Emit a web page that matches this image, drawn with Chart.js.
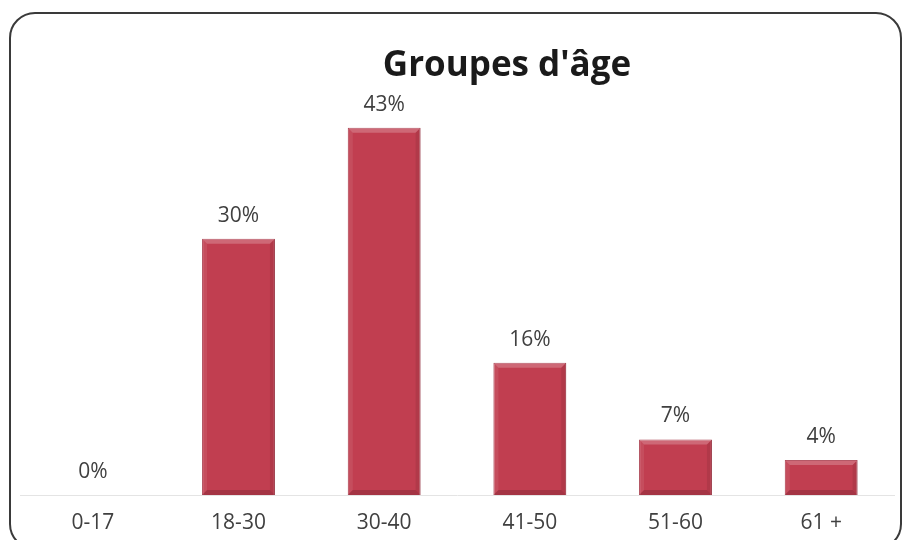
<!DOCTYPE html>
<html>
<head>
<meta charset="utf-8">
<script src="https://cdn.jsdelivr.net/npm/chart.js@4/dist/chart.umd.min.js"></script>
<style>
  html, body { margin: 0; padding: 0; background: #fff; overflow: hidden; }
  #wrap { position: relative; width: 903px; height: 540px; }
  #frame {
    position: absolute; left: 9px; top: 12px; width: 889px; height: 534px;
    border: 2px solid #3a3a3a; border-radius: 26px; pointer-events: none;
  }
  canvas { position: absolute; left: 0; top: 0; }
</style>
</head>
<body>
<div id="wrap">
  <canvas id="chart" width="903" height="540"></canvas>
  <div id="frame"></div>
</div>
<script>
// ── Data ────────────────────────────────────────────────────────────────
const title      = "Groupes d'âge";
const categories = ['0-17', '18-30', '30-40', '41-50', '51-60', '61 +'];
const values     = [0, 30, 43, 15.5, 6.5, 4.1];
const valueLabels = ['0%', '30%', '43%', '16%', '7%', '4%'];

const textColor = '#404040';
const font = '"Open Sans", "DejaVu Sans", sans-serif';

// ── Plugins: bevel on bars, value labels, title ─────────────────────────
const bevelPlugin = {
    id: 'bevel',
    afterDatasetsDraw(chart) {
        const ctx = chart.ctx;
        chart.getDatasetMeta(0).data.forEach(bar => {
            const h = bar.base - bar.y;
            if (h < 2) return;
            const l = bar.x - bar.width / 2, r = bar.x + bar.width / 2;
            const t = bar.y, b = bar.base, e = 5;
            ctx.save();
            // top highlight
            ctx.fillStyle = 'rgba(255,255,255,0.22)';
            ctx.beginPath();
            ctx.moveTo(l, t); ctx.lineTo(r, t); ctx.lineTo(r - e, t + e); ctx.lineTo(l + e, t + e);
            ctx.closePath(); ctx.fill();
            // sides
            ctx.fillStyle = 'rgba(255,255,255,0.08)';
            ctx.beginPath();
            ctx.moveTo(l, t); ctx.lineTo(l + e, t + e); ctx.lineTo(l + e, b - e); ctx.lineTo(l, b);
            ctx.closePath(); ctx.fill();
            ctx.fillStyle = 'rgba(0,0,0,0.08)';
            ctx.beginPath();
            ctx.moveTo(r, t); ctx.lineTo(r - e, t + e); ctx.lineTo(r - e, b - e); ctx.lineTo(r, b);
            ctx.closePath(); ctx.fill();
            // bottom shade
            ctx.fillStyle = 'rgba(0,0,0,0.15)';
            ctx.beginPath();
            ctx.moveTo(l, b); ctx.lineTo(r, b); ctx.lineTo(r - e, b - e); ctx.lineTo(l + e, b - e);
            ctx.closePath(); ctx.fill();
            ctx.restore();
        });
    }
};

const labelPlugin = {
    id: 'valueLabels',
    afterDraw(chart) {
        const ctx = chart.ctx;
        ctx.save();
        ctx.fillStyle = textColor;
        ctx.font = '21px ' + font;
        ctx.textAlign = 'center';
        ctx.textBaseline = 'alphabetic';
        chart.getDatasetMeta(0).data.forEach((bar, i) => {
            ctx.fillText(valueLabels[i], bar.x, bar.y - 17);
        });
        // title, offset right like the original
        ctx.fillStyle = '#1a1a1a';
        ctx.font = 'bold 35px ' + font;
        ctx.fillText(title, 507, 76);
        ctx.restore();
    }
};

// ── Chart ───────────────────────────────────────────────────────────────
new Chart(document.getElementById('chart'), {
    type: 'bar',
    data: {
        labels: categories,
        datasets: [{
            data: values,
            backgroundColor: '#c13e50',
            borderColor: '#a02a3b',
            borderWidth: 1,
            categoryPercentage: 1,
            barPercentage: 0.5
        }]
    },
    options: {
        responsive: false,
        animation: false,
        layout: { padding: { top: 68, left: 20, right: 9, bottom: 0 } },
        plugins: {
            legend: { display: false },
            tooltip: { enabled: false }
        },
        scales: {
            x: {
                afterFit: s => { s.height = 45; },
                grid: { display: false, drawTicks: false },
                border: { display: true, color: '#e4e4e4', width: 1 },
                ticks: { color: textColor, font: { family: font, size: 21 }, padding: 15 }
            },
            y: {
                display: false,
                min: 0,
                max: 50
            }
        }
    },
    plugins: [bevelPlugin, labelPlugin]
});
</script>
</body>
</html>
